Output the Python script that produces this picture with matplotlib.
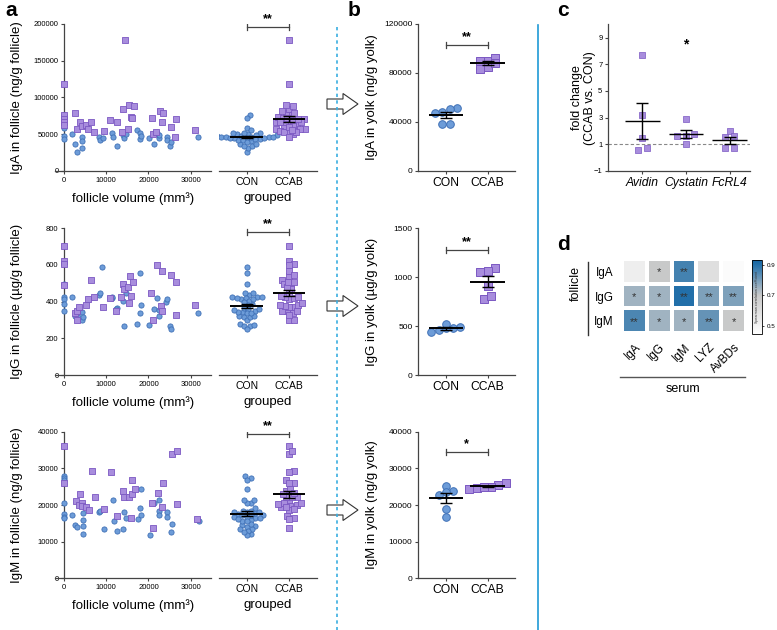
import numpy as np
import matplotlib.pyplot as plt
from matplotlib.patches import FancyArrow
from matplotlib.lines import Line2D
from matplotlib.colors import LinearSegmentedColormap

plt.rcParams['font.family'] = ['Liberation Sans', 'DejaVu Sans']

# ---- panel a : follicle IgA / IgG / IgM vs follicle volume ----
vol_iga_con = [0, 0, 0, 0, 0, 2000, 2700, 3000, 4200, 4300, 4300, 8300, 8500, 9300, 11300, 11500,
               12500, 14000, 14200, 14700, 17400, 18100, 18100, 18300, 20200, 21400, 22000, 22400,
               22600, 24500, 24500, 25000, 25300, 31800]
iga_con = [76000, 71800, 58600, 47300, 44000, 51000, 36400, 26000, 46800, 40900, 31800, 46800, 42300,
           44500, 51300, 46800, 34100, 49000, 44500, 49900, 55800, 52300, 43200, 47700, 45500, 36800,
           52300, 45500, 49100, 46800, 42300, 34100, 39100, 46800]
vol_iga_ccab = [0, 0, 0, 0, 0, 2700, 3100, 3700, 4200, 5100, 5700, 6500, 7200, 9400, 11000, 12600,
                13800, 14000, 14400, 15200, 15500, 15800, 16200, 16600, 20800, 21100, 21800, 22700,
                23500, 23200, 25400, 26300, 26600, 31100]
iga_ccab = [119000, 76800, 71300, 66800, 63200, 79100, 57700, 66800, 60900, 62300, 57700, 66800,
            52700, 54100, 69500, 66800, 52700, 85000, 178000, 56800, 89500, 73600, 72700, 89000,
            72200, 49900, 53600, 81800, 79500, 66800, 60000, 46400, 71000, 56300]

vol_igg_con = [0, 0, 0, 0, 0, 2000, 2600, 3000, 3400, 4200, 4300, 4400, 8300, 8500, 9100, 11300,
               11400, 12500, 12400, 14000, 14200, 14700, 17900, 18100, 18300, 17300, 20200, 21300,
               22100, 22400, 22600, 24200, 24500, 25000, 25300, 31700]
igg_con = [495, 424, 413, 385, 349, 427, 322, 345, 318, 300, 345, 318, 436, 445, 591, 422, 424, 367,
           358, 405, 267, 445, 558, 336, 382, 278, 273, 360, 418, 355, 322, 396, 413, 267, 249, 340]
vol_igg_ccab = [0, 0, 0, 0, 2600, 3100, 3000, 3600, 5200, 5700, 6400, 7000, 9300, 11000, 12300,
                13600, 14000, 14200, 15200, 15400, 15600, 15800, 16400, 20700, 21000, 21900, 23300,
                22900, 23300, 25300, 26500, 26500, 31000]
igg_ccab = [704, 622, 604, 491, 340, 349, 300, 373, 380, 413, 518, 425, 373, 418, 349, 427, 496, 467,
            478, 391, 542, 433, 509, 445, 300, 598, 567, 378, 351, 544, 329, 509, 382]

vol_igm_con = [0, 0, 0, 0, 0, 0, 0, 2000, 2700, 3100, 4400, 4500, 4500, 4500, 8300, 8500, 9400,
               11500, 11800, 12600, 14000, 14300, 14600, 17600, 18000, 18200, 18200, 20400, 21300,
               22400, 22600, 22600, 24500, 24500, 25300, 25500, 31900]
igm_con = [27900, 27400, 26800, 20450, 17550, 16800, 16400, 17300, 14500, 14100, 17700, 15900, 14300,
           12100, 18000, 18450, 13450, 21400, 15700, 13000, 13450, 18200, 16400, 16200, 19100, 17200,
           24300, 11800, 20450, 21400, 18400, 17200, 18200, 16800, 12700, 14700, 15600]
vol_igm_ccab = [0, 0, 2800, 3500, 3800, 4200, 4200, 5200, 5900, 6700, 7300, 9500, 11200, 12600,
                13900, 14300, 15300, 15800, 16000, 16100, 16700, 20900, 21100, 22200, 23500, 23300,
                25600, 26800, 26700, 31400]
igm_ccab = [36100, 25900, 21200, 19900, 23000, 20450, 19800, 19400, 18600, 29300, 22300, 19000,
            28900, 17100, 23900, 22100, 22100, 16500, 23000, 26800, 24500, 20450, 13600, 23200,
            25900, 19400, 33800, 34800, 20200, 16100]

# ---- panel b : yolk ----
yolk_iga_con = [48400, 51700, 47600, 50300, 38100, 38100]
yolk_iga_ccab = [89800, 83300, 89800, 85200, 92500, 87900]
yolk_igg_con = [460, 487, 477, 477, 518, 436]
yolk_igg_ccab = [1098, 1057, 1064, 910, 777, 808]
yolk_igm_con = [23900, 25200, 23500, 22700, 18900, 16800]
yolk_igm_ccab = [24600, 25400, 25000, 24900, 26000, 24500]

# ---- panel c : fold change ----
genes = ['Avidin', 'Cystatin', 'FcRL4']
fold_avidin = [7.7, 3.2, 1.5, 0.6, 0.7]
fold_cystatin = [2.9, 1.75, 1.6, 1.6, 1.05]
fold_fcrl4 = [2.0, 1.55, 1.6, 0.7, 0.7]

# ---- panel d : spearman correlation ----
follicle_ig = ['IgA', 'IgG', 'IgM']
serum_items = ['IgA', 'IgG', 'IgM', 'LYZ', 'AvBDs']
corr = [[0.53, 0.70, 0.86, 0.60, 0.47],
        [0.75, 0.75, 0.90, 0.79, 0.79],
        [0.85, 0.75, 0.75, 0.82, 0.70]]
corr_sig = [['', '*', '**', '', ''],
            ['*', '*', '**', '**', '**'],
            ['**', '*', '*', '**', '*']]

W, H = 777, 630
BLUE, BLUE_E = '#6d9cd8', '#3f70b6'
PURP, PURP_E = '#a88ddd', '#7b58c2'
AXC = '#444444'

fig = plt.figure(figsize=(W / 100, H / 100), dpi=100)


def add_ax(l, t, r, b):
    return fig.add_axes([l / W, 1 - b / H, (r - l) / W, (b - t) / H])


def style(ax, fs=5.5):
    for s in ['top', 'right']:
        ax.spines[s].set_visible(False)
    for s in ['left', 'bottom']:
        ax.spines[s].set_color(AXC)
        ax.spines[s].set_linewidth(0.9)
    ax.tick_params(colors=AXC, labelcolor='black', labelsize=fs, length=2.5, width=0.8, pad=1.5)


def px_scale(ax):
    pos = ax.get_position()
    x0, x1 = ax.get_xlim()
    y0, y1 = ax.get_ylim()
    return pos.width * W / (x1 - x0), pos.height * H / (y1 - y0)


def swarm(vals, ax, d):
    # simple beeswarm: offsets in data units along x
    sx, sy = px_scale(ax)
    ypx = np.asarray(vals, float) * sy
    cands = [0.0]
    for k in range(1, 400):
        cands += [k * 0.5, -k * 0.5]
    placed = []
    out = np.zeros(len(ypx))
    for i in np.argsort(ypx):
        for c in cands:
            if all((c - px) ** 2 + (ypx[i] - py) ** 2 >= d * d for px, py in placed):
                break
        placed.append((c, ypx[i]))
        out[i] = c / sx
    return out


def binned(vals, ax, d, dy):
    # prism-like rows: points close in y share a centred row
    sx, sy = px_scale(ax)
    ypx = np.asarray(vals, float) * sy
    order = list(np.argsort(ypx))
    out = np.zeros(len(ypx))
    while order:
        grp = [i for i in order if ypx[i] - ypx[order[0]] < dy]
        n = len(grp)
        for k, i in enumerate(grp):
            out[i] = (k - (n - 1) / 2) * d / sx
        order = [i for i in order if i not in grp]
    return out


def mean_sem(ax, x, vals, half, cap, lw=1.4):
    m = np.mean(vals)
    se = np.std(vals, ddof=1) / np.sqrt(len(vals))
    ax.plot([x - half, x + half], [m, m], color='black', lw=lw, zorder=6, solid_capstyle='butt')
    ax.errorbar([x], [m], yerr=[se], color='black', lw=1.0, capsize=cap, capthick=1.0, zorder=6)


def bracket(ax, y, txt, h):
    ax.plot([0, 1], [y, y], color=AXC, lw=0.9)
    for xx in [0, 1]:
        ax.plot([xx, xx], [y - h, y + h], color=AXC, lw=0.9)
    ax.text(0.5, y + h * 0.6, txt, ha='center', va='bottom', fontsize=9, fontweight='bold')


rows = [
    (24, 171, 200000, [0, 50000, 100000, 150000, 200000], 'IgA in follicle (ng/g follicle)',
     vol_iga_con, iga_con, vol_iga_ccab, iga_ccab, 196000,
     120000, [0, 40000, 80000, 120000], 'IgA in yolk (ng/g yolk)',
     yolk_iga_con, yolk_iga_ccab, 102900, '**', 104),
    (228.3, 375, 800, [0, 200, 400, 600, 800], 'IgG in follicle (µg/g follicle)',
     vol_igg_con, igg_con, vol_igg_ccab, igg_ccab, 778,
     1500, [0, 500, 1000, 1500], 'IgG in yolk (µg/g yolk)',
     yolk_igg_con, yolk_igg_ccab, 1276, '**', 306),
    (431.7, 578.3, 40000, [0, 10000, 20000, 30000, 40000], 'IgM in follicle (ng/g follicle)',
     vol_igm_con, igm_con, vol_igm_ccab, igm_ccab, 39300,
     40000, [0, 10000, 20000, 30000, 40000], 'IgM in yolk (ng/g yolk)',
     yolk_igm_con, yolk_igm_ccab, 34400, '*', 510),
]

for (top, bot, ymax, yt, ylab, vcon, ycon, vccab, yccab, brk,
     bmax, byt, blab, bcon, bccab, bbrk, bstar, arr_y) in rows:
    # scatter vs volume
    ax = add_ax(55, top, 211, bot)
    style(ax)
    ax.set_xlim(-2130, 34800)
    ax.set_ylim(0, ymax)
    ax.spines['left'].set_position(('data', 0))
    ax.set_xticks([0, 10000, 20000, 30000])
    ax.set_yticks(yt)
    ax.scatter(vcon, ycon, s=14, marker='o', color=BLUE, edgecolor=BLUE_E, lw=0.6, zorder=3, clip_on=False)
    ax.scatter(vccab, yccab, s=13, marker='s', color=PURP, edgecolor=PURP_E, lw=0.6, zorder=3, clip_on=False)
    ax.set_xlabel('follicle volume (mm³)', fontsize=9.5, labelpad=6)
    ax.set_ylabel(ylab, fontsize=9.5)
    ax.yaxis.set_label_coords(-0.205, 0.5)

    # grouped
    ag = add_ax(219, top, 317, bot)
    style(ag, 7.5)
    ag.spines['left'].set_visible(False)
    ag.set_yticks([])
    ag.set_xlim(-0.65, 1.66)
    ag.set_ylim(0, ymax)
    ag.set_xticks([0, 1])
    ag.set_xticklabels(['CON', 'CCAB'])
    ag.scatter(swarm(ycon, ag, 4.3), ycon, s=14, marker='o', color=BLUE, edgecolor=BLUE_E, lw=0.6, zorder=3)
    ag.scatter(1 + swarm(yccab, ag, 4.3), yccab, s=13, marker='s', color=PURP, edgecolor=PURP_E, lw=0.6, zorder=3)
    mean_sem(ag, 0, ycon, 0.38, 4.5)
    mean_sem(ag, 1, yccab, 0.38, 4.5)
    bracket(ag, brk, '**', ymax * 0.02)
    ag.set_xlabel('grouped', fontsize=9.5, labelpad=4)

    # yolk
    ab = add_ax(418, top, 515, bot)
    style(ab, 6)
    ab.set_xlim(-0.67, 1.66)
    ab.set_ylim(0, bmax)
    ab.set_yticks(byt)
    ab.set_xticks([0, 1])
    ab.set_xticklabels(['CON', 'CCAB'], fontsize=8.7)
    ab.scatter(binned(bcon, ab, 7.3, 7), bcon, s=30, marker='o', color=BLUE, edgecolor=BLUE_E, lw=0.7, zorder=3)
    ab.scatter(1 + binned(bccab, ab, 7.3, 7), bccab, s=30, marker='s', color=PURP, edgecolor=PURP_E, lw=0.7, zorder=3)
    mean_sem(ab, 0, bcon, 0.41, 4.5)
    mean_sem(ab, 1, bccab, 0.41, 4.5)
    bracket(ab, bbrk, bstar, bmax * 0.02)
    ab.set_ylabel(blab, fontsize=9.5)
    ab.yaxis.set_label_coords(-0.41, 0.5)

    # block arrow
    fig.add_artist(FancyArrow(3.27, (H - arr_y) / 100, 0.31, 0, width=0.10, head_width=0.21,
                              head_length=0.15, length_includes_head=True,
                              transform=fig.dpi_scale_trans, facecolor='white',
                              edgecolor='#333333', lw=0.8))

# ---- panel c ----
axc = add_ax(608, 24.3, 750, 171)
style(axc, 5.5)
axc.set_xlim(-0.79, 2.47)
axc.set_ylim(-1, 10)
axc.set_yticks([-1, 1, 3, 5, 7, 9])
axc.set_xticks([0, 1, 2])
axc.set_xticklabels(genes, fontsize=8.7, style='italic')
axc.axhline(1, color='#888888', lw=0.8, ls=(0, (3, 2)), zorder=1)
for i, vals in enumerate([fold_avidin, fold_cystatin, fold_fcrl4]):
    axc.scatter(i + binned(vals, axc, 8.5, 6), vals, s=16, marker='s', color=PURP, edgecolor=PURP_E,
                lw=0.5, zorder=3)
    mean_sem(axc, i, vals, 0.4, 4.5, lw=1.0)
axc.text(1, 8.5, '*', ha='center', va='center', fontsize=10, fontweight='bold')
axc.set_ylabel('fold change\n(CCAB vs. CON)', fontsize=9, linespacing=1.05)
axc.yaxis.set_label_coords(-0.085, 0.5)

# ---- panel d ----
cmap = LinearSegmentedColormap.from_list(
    'corr', [(0.0, '#ffffff'), (0.52, '#c9c9c9'), (0.9375, '#2370aa'), (1.0, '#16649f')])
axd = add_ax(622, 259, 746, 333)
mesh = axd.pcolormesh(np.array(corr), cmap=cmap, vmin=0.45, vmax=0.93, edgecolors='white', linewidth=1.5)
axd.set_xlim(0, len(serum_items))
axd.set_ylim(len(follicle_ig), 0)
for i in range(len(follicle_ig)):
    for j in range(len(serum_items)):
        if corr_sig[i][j]:
            axd.text(j + 0.5, i + 0.55, corr_sig[i][j], ha='center', va='center', fontsize=8, color='#333333')
for s in axd.spines.values():
    s.set_visible(False)
axd.set_xticks(np.arange(len(serum_items)) + 0.5)
axd.set_xticklabels(serum_items, rotation=45, ha='right', rotation_mode='anchor', fontsize=8.5)
axd.set_yticks(np.arange(len(follicle_ig)) + 0.5)
axd.set_yticklabels(follicle_ig, fontsize=8.5)
axd.tick_params(length=0, pad=6)

cax = add_ax(752, 260, 762, 334)
cb = fig.colorbar(mesh, cax=cax, ticks=[0.5, 0.7, 0.9])
cb.ax.tick_params(labelsize=4.5, length=1.5, width=0.5, pad=2)
cb.outline.set_linewidth(0.6)
cax.text(0.5, 0.5, 'Spearman correlation coefficient', rotation=90, ha='center', va='center',
         fontsize=2.6, transform=cax.transAxes, color='#333333')

fig.add_artist(Line2D([588 / W, 588 / W], [1 - 262 / H, 1 - 335 / H], color='#333333', lw=1))
fig.add_artist(Line2D([620 / W, 745 / W], [1 - 377 / H, 1 - 377 / H], color='#555555', lw=1))
fig.text(576 / W, 1 - 284 / H, 'follicle', rotation=90, ha='center', va='center', fontsize=9)
fig.text(683 / W, 1 - 389 / H, 'serum', ha='center', va='center', fontsize=9)

# separators
fig.add_artist(Line2D([337 / W, 337 / W], [1 - 27 / H, 0], color='#3aaee0', lw=1.2, ls=(0, (2, 2))))
fig.add_artist(Line2D([538 / W, 538 / W], [1 - 25 / H, 0], color='#1f9ad6', lw=1.2))

# panel letters
for lab, x, y in [('a', 5, 10), ('b', 348, 10), ('c', 557, 10), ('d', 557, 244)]:
    fig.text(x / W, 1 - y / H, lab, fontsize=15, fontweight='bold', va='center', ha='left')

fig.savefig('out.png', dpi=100)
